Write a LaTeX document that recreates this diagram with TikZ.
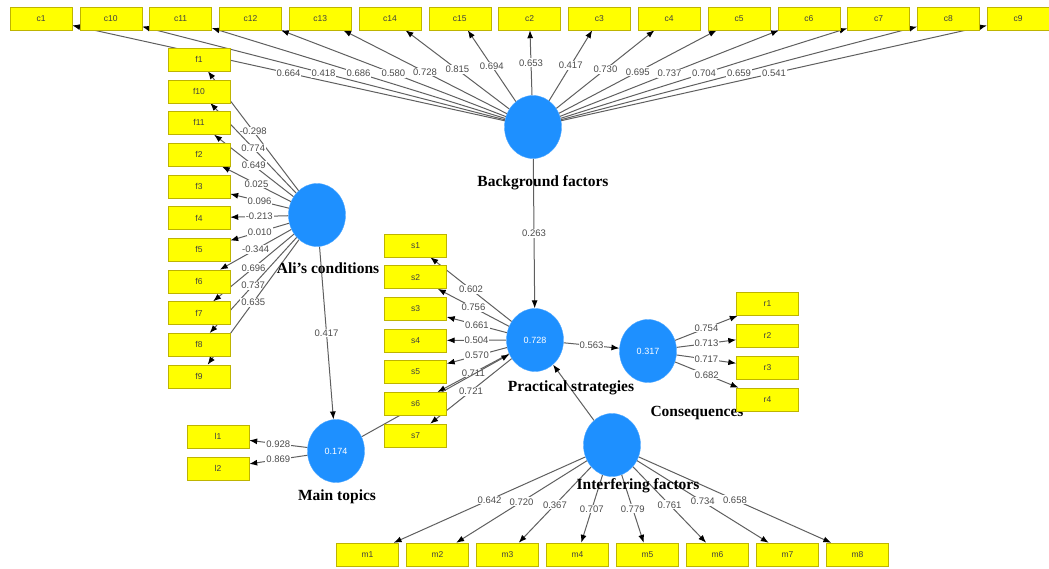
\documentclass[tikz,border=0pt]{standalone}
\usepackage{fontspec}
\setmainfont{Liberation Serif}
\setsansfont{Liberation Sans}
\usetikzlibrary{arrows.meta,shapes.geometric,backgrounds}
\definecolor{lvblue}{RGB}{30,144,255}
\definecolor{mvyellow}{RGB}{255,255,0}
\definecolor{mvedge}{RGB}{190,180,0}
\definecolor{pathgray}{RGB}{95,95,95}

\begin{document}
\begin{tikzpicture}[x=1pt,y=-1pt,
  latent/.style={ellipse, fill=lvblue, draw=lvblue!80!white, minimum width=57pt, minimum height=63pt, inner sep=0pt, text=white, font=\sffamily\fontsize{9}{10}\selectfont},
  indicator/.style={rectangle, fill=mvyellow, draw=mvedge, minimum width=62pt, minimum height=23pt, inner sep=0pt, text=black!75, font=\sffamily\fontsize{8.5}{9}\selectfont},
  lvname/.style={font=\bfseries\fontsize{15.5}{17}\selectfont, inner sep=0pt},
  weight/.style={fill=white, inner sep=1pt, text=black!70, font=\sffamily\fontsize{9.5}{10}\selectfont},
  arrow/.style={-{Latex[length=8pt,width=6pt,color=black]}, draw=pathgray, line width=1pt}
]
\useasboundingbox (0,0) rectangle (1049,568);

\node[latent] (bg) at (533,127) {};
\node[latent] (ali) at (317,215) {};
\node[latent] (ps) at (535,340) {0.728};
\node[latent] (cons) at (648,351) {0.317};
\node[latent] (mt) at (336,451) {0.174};
\node[latent] (inf) at (612,445) {};

\node[lvname] (bgname) at (543,183) {Background factors};
\node[lvname] (aliname) at (328,268) {Ali’s conditions};
\node[lvname] (psname) at (571,388) {Practical strategies};
\node[lvname] (consname) at (697,413) {Consequences};
\node[lvname] (mtname) at (337,497) {Main topics};
\node[lvname] (infname) at (638,486) {Interfering factors};

\foreach \name [count=\i from 0] in {c1,c10,c11,c12,c13,c14,c15,c2,c3,c4,c5,c6,c7,c8,c9}
  \node[indicator] (\name) at ({41+69.8*\i},18.5) {\name};
\foreach \name [count=\i from 0] in {f1,f10,f11,f2,f3,f4,f5,f6,f7,f8,f9}
  \node[indicator] (\name) at (199,{59.5+31.7*\i}) {\name};
\foreach \name [count=\i from 0] in {s1,s2,s3,s4,s5,s6,s7}
  \node[indicator] (\name) at (415.5,{245.5+31.65*\i}) {\name};
\foreach \name [count=\i from 0] in {r1,r2,r3,r4}
  \node[indicator] (\name) at (767.5,{304+31.8*\i}) {\name};
\foreach \name [count=\i from 0] in {l1,l2}
  \node[indicator] (\name) at (218,{436.5+32*\i}) {\name};
\foreach \name [count=\i from 0] in {m1,m2,m3,m4,m5,m6,m7,m8}
  \node[indicator] (\name) at ({367.5+70*\i},554.5) {\name};

\begin{scope}[on background layer]
\foreach \name/\val in {c1/0.664,c10/0.418,c11/0.686,c12/0.580,c13/0.728,c14/0.815,c15/0.694,c2/0.653,c3/0.417,c4/0.730,c5/0.695,c6/0.737,c7/0.704,c8/0.659,c9/0.541}
  \draw[arrow] (bg) -- node[weight] {\val} (\name);
\foreach \name/\val in {f1/-0.298,f10/0.774,f11/0.649,f2/0.025,f3/0.096,f4/-0.213,f5/0.010,f6/-0.344,f7/0.696,f8/0.737,f9/0.635}
  \draw[arrow] (ali) -- node[weight] {\val} (\name);
\foreach \name/\val in {s1/0.602,s2/0.756,s3/0.661,s4/0.504,s5/0.570,s6/0.711,s7/0.721}
  \draw[arrow] (ps) -- node[weight] {\val} (\name);
\foreach \name/\val in {r1/0.754,r2/0.713,r3/0.717,r4/0.682}
  \draw[arrow] (cons) -- node[weight] {\val} (\name);
\foreach \name/\val in {l1/0.928,l2/0.869}
  \draw[arrow] (mt) -- node[weight] {\val} (\name);
\foreach \name/\val in {m1/0.642,m2/0.720,m3/0.367,m4/0.707,m5/0.779,m6/0.761,m7/0.734,m8/0.658}
  \draw[arrow] (inf) -- node[weight] {\val} (\name);
\draw[arrow] (bg) -- node[weight] {0.263} (ps);
\draw[arrow] (ali) -- node[weight] {0.417} (mt);
\draw[arrow] (ps) -- node[weight] {0.563} (cons);
\draw[arrow] (mt) -- (ps);
\draw[arrow] (inf) -- (ps);
\end{scope}
\end{tikzpicture}
\end{document}
